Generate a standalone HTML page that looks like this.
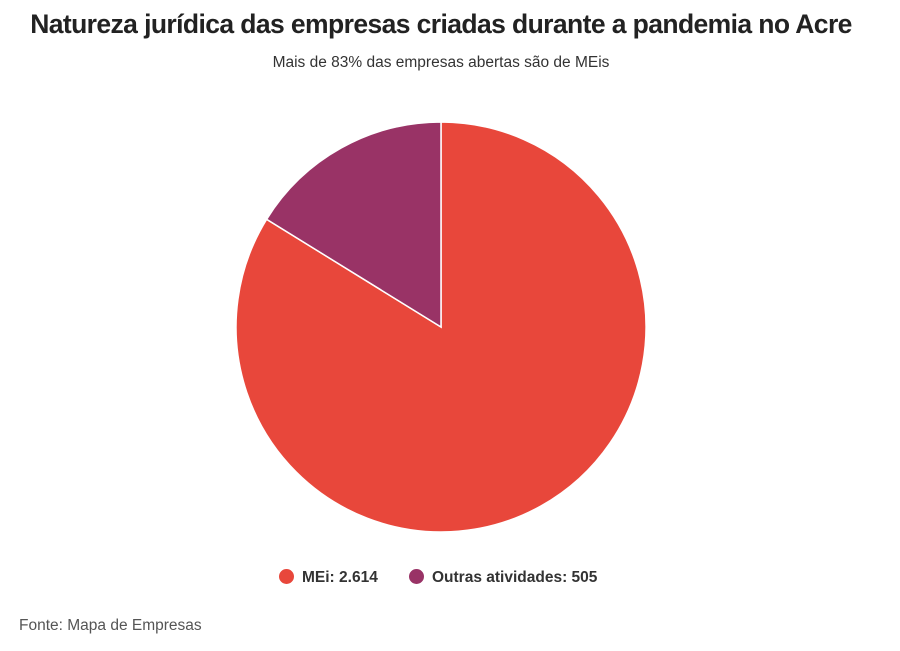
<!DOCTYPE html>
<html><head><meta charset="utf-8"><style>
body{margin:0;width:900px;height:651px;background:#fff;font-family:"Liberation Sans",sans-serif;position:relative;overflow:hidden}
.t{position:absolute;left:0;width:882px;text-align:center;top:9px;font-size:26.5px;font-weight:bold;color:#222;letter-spacing:-0.6px}
.s{position:absolute;left:0;width:882px;text-align:center;top:54px;font-size:15.5px;color:#333}
.f{position:absolute;left:19px;top:617px;font-size:15.5px;color:#555}
.lg{position:absolute;top:569px;font-size:15.5px;font-weight:bold;color:#333}
.d{display:inline-block;width:15px;height:15px;border-radius:50%;vertical-align:-2px;margin-right:8px}
</style></head><body>
<div class="t">Natureza jurídica das empresas criadas durante a pandemia no Acre</div>
<div class="s">Mais de 83% das empresas abertas são de MEis</div>
<svg width="900" height="651" style="position:absolute;left:0;top:0">
<path d="M441,327 L441,122 A205,205 0 1 1 266.6,219.3 Z" fill="#E8473B" stroke="#fff" stroke-width="1.5"/>
<path d="M441,327 L266.6,219.3 A205,205 0 0 1 441,122 Z" fill="#993366" stroke="#fff" stroke-width="1.5"/>
</svg>
<div class="lg" style="left:279px"><span class="d" style="background:#E8473B"></span>MEi: 2.614</div>
<div class="lg" style="left:409px"><span class="d" style="background:#993366"></span>Outras atividades: 505</div>
<div class="f">Fonte: Mapa de Empresas</div>
</body></html>
